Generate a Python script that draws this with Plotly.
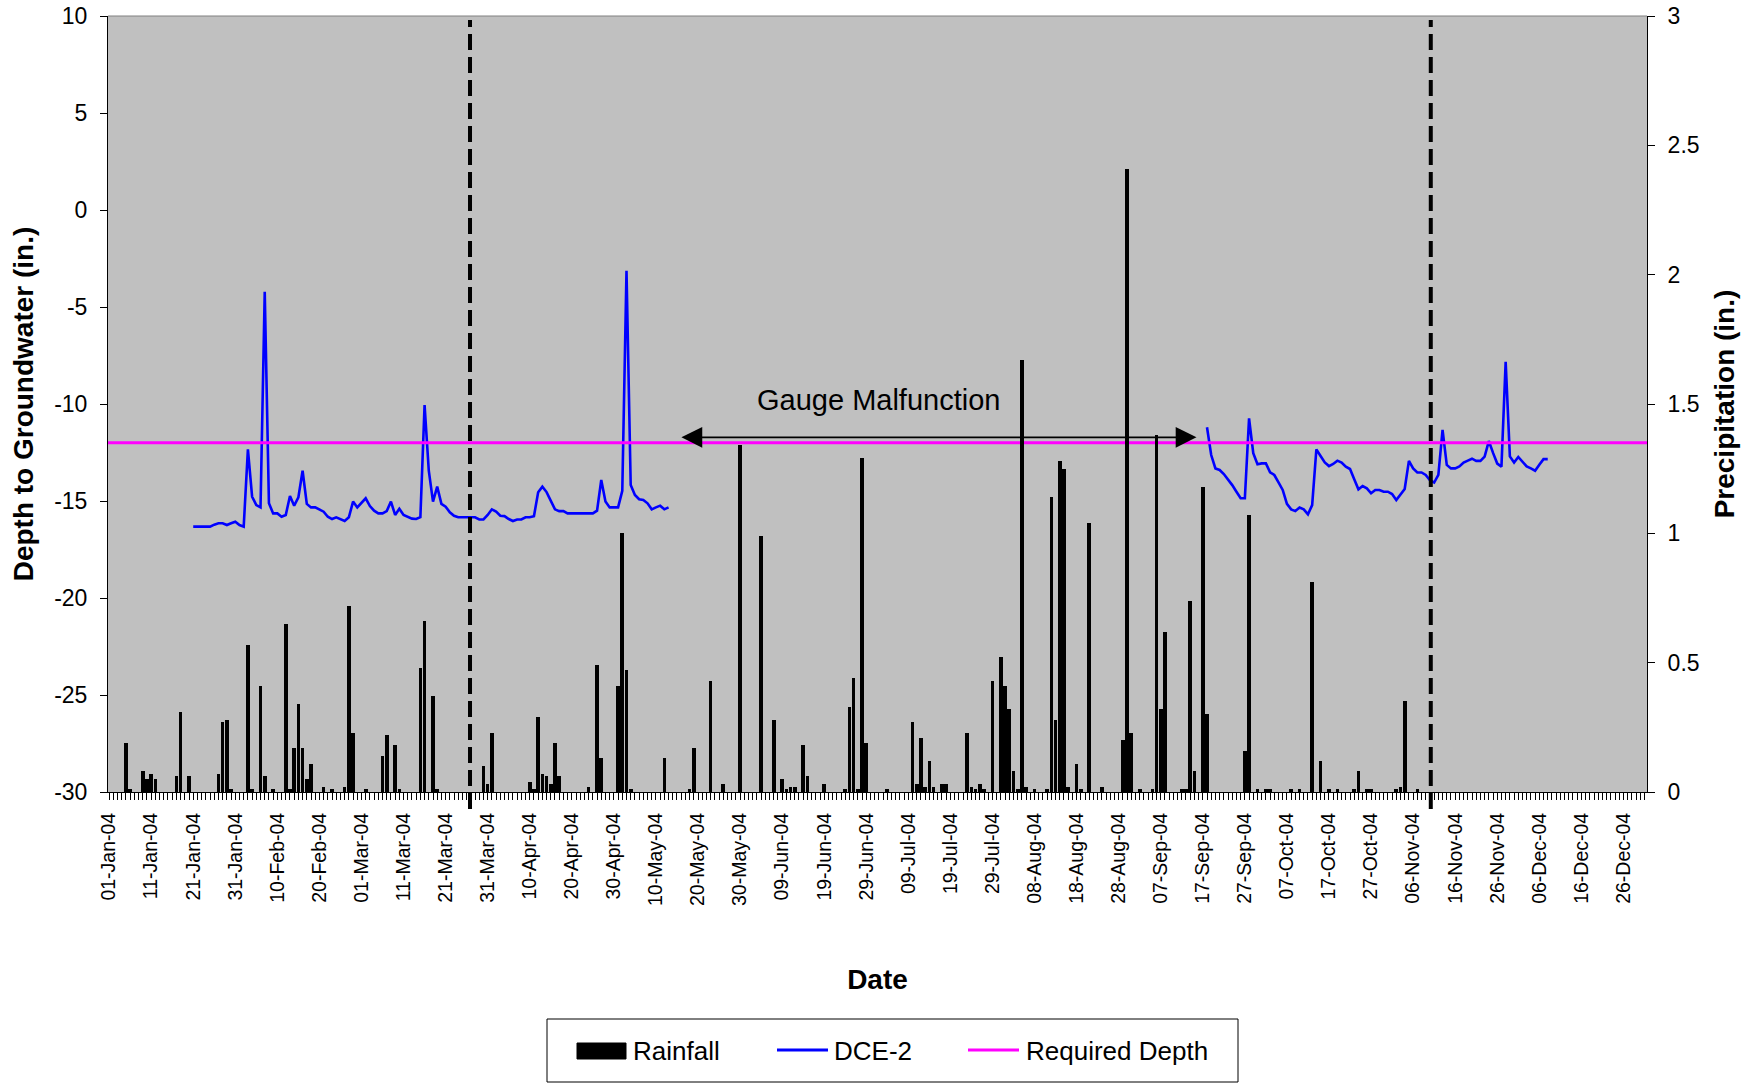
import pandas as pd
import plotly.graph_objects as go

# ---------------- data ----------------
rain_dates = [
    "2004-01-05", "2004-01-06", "2004-01-09", "2004-01-10", "2004-01-11", "2004-01-12",
    "2004-01-17", "2004-01-18", "2004-01-20", "2004-01-27", "2004-01-28", "2004-01-29",
    "2004-01-30", "2004-02-03", "2004-02-04", "2004-02-06", "2004-02-07", "2004-02-09",
    "2004-02-12", "2004-02-13", "2004-02-14", "2004-02-15", "2004-02-16", "2004-02-17",
    "2004-02-18", "2004-02-21", "2004-02-23", "2004-02-26", "2004-02-27", "2004-02-28",
    "2004-03-02", "2004-03-06", "2004-03-07", "2004-03-09", "2004-03-10", "2004-03-15",
    "2004-03-16", "2004-03-18", "2004-03-19", "2004-03-30", "2004-03-31", "2004-04-01",
    "2004-04-10", "2004-04-11", "2004-04-12", "2004-04-13", "2004-04-14", "2004-04-15",
    "2004-04-16", "2004-04-17", "2004-04-24", "2004-04-26", "2004-04-27", "2004-05-01",
    "2004-05-02", "2004-05-03", "2004-05-04", "2004-05-12", "2004-05-18", "2004-05-19",
    "2004-05-23", "2004-05-26", "2004-05-30", "2004-06-04", "2004-06-07", "2004-06-09",
    "2004-06-10", "2004-06-11", "2004-06-12", "2004-06-14", "2004-06-15", "2004-06-19",
    "2004-06-24", "2004-06-25", "2004-06-26", "2004-06-27", "2004-06-28", "2004-06-29",
    "2004-07-04", "2004-07-10", "2004-07-11", "2004-07-12", "2004-07-13", "2004-07-14",
    "2004-07-15", "2004-07-17", "2004-07-18", "2004-07-23", "2004-07-24", "2004-07-25",
    "2004-07-26", "2004-07-27", "2004-07-29", "2004-07-31", "2004-08-01", "2004-08-02",
    "2004-08-03", "2004-08-04", "2004-08-05", "2004-08-06", "2004-08-08", "2004-08-11",
    "2004-08-12", "2004-08-13", "2004-08-14", "2004-08-15", "2004-08-16", "2004-08-18",
    "2004-08-19", "2004-08-21", "2004-08-24", "2004-08-29", "2004-08-30", "2004-08-31",
    "2004-09-02", "2004-09-05", "2004-09-06", "2004-09-07", "2004-09-08", "2004-09-12",
    "2004-09-13", "2004-09-14", "2004-09-15", "2004-09-17", "2004-09-18", "2004-09-27",
    "2004-09-28", "2004-09-30", "2004-10-02", "2004-10-03", "2004-10-08", "2004-10-10",
    "2004-10-13", "2004-10-15", "2004-10-17", "2004-10-19", "2004-10-23", "2004-10-24",
    "2004-10-26", "2004-10-27", "2004-11-02", "2004-11-03", "2004-11-04", "2004-11-07",
]
rain_in = [
    0.19, 0.01, 0.08, 0.05, 0.07, 0.05,
    0.06, 0.31, 0.06, 0.07, 0.27, 0.28,
    0.01, 0.57, 0.01, 0.41, 0.06, 0.01,
    0.65, 0.01, 0.17, 0.34, 0.17, 0.05,
    0.11, 0.02, 0.01, 0.02, 0.72, 0.23,
    0.01, 0.14, 0.22, 0.18, 0.01, 0.48,
    0.66, 0.37, 0.01, 0.10, 0.03, 0.23,
    0.04, 0.01, 0.29, 0.07, 0.06, 0.03,
    0.19, 0.06, 0.02, 0.49, 0.13, 0.41,
    1.00, 0.47, 0.01, 0.13, 0.01, 0.17,
    0.43, 0.03, 1.34, 0.99, 0.28, 0.05,
    0.01, 0.02, 0.02, 0.18, 0.06, 0.03,
    0.01, 0.33, 0.44, 0.01, 1.29, 0.19,
    0.01, 0.27, 0.03, 0.21, 0.02, 0.12,
    0.02, 0.03, 0.03, 0.23, 0.02, 0.01,
    0.03, 0.01, 0.43, 0.52, 0.41, 0.32,
    0.08, 0.01, 1.67, 0.02, 0.01, 0.01,
    1.14, 0.28, 1.28, 1.25, 0.02, 0.11,
    0.01, 1.04, 0.02, 0.20, 2.41, 0.23,
    0.01, 0.01, 1.38, 0.32, 0.62, 0.01,
    0.01, 0.74, 0.08, 1.18, 0.30, 0.16,
    1.07, 0.01, 0.01, 0.01, 0.01, 0.01,
    0.81, 0.12, 0.01, 0.01, 0.01, 0.08,
    0.01, 0.01, 0.01, 0.02, 0.35, 0.01,
]

# DCE-2 daily readings (two recorded periods; gauge malfunction in between)
dce2_seg1_start = "2004-01-21"
dce2_seg1 = [
    -16.32, -16.32, -16.32, -16.32, -16.32, -16.22, -16.15, -16.15, -16.24, -16.15,
    -16.07, -16.24, -16.32, -12.34, -14.78, -15.21, -15.33, -4.21, -15.12, -15.64,
    -15.64, -15.81, -15.72, -14.74, -15.24, -14.81, -13.44, -15.15, -15.33, -15.33,
    -15.43, -15.55, -15.81, -15.93, -15.84, -15.95, -16.03, -15.84, -15.03, -15.33,
    -15.09, -14.86, -15.26, -15.50, -15.64, -15.64, -15.52, -15.03, -15.72, -15.40,
    -15.72, -15.81, -15.91, -15.93, -15.83, -10.05, -13.44, -15.03, -14.26, -15.15,
    -15.29, -15.58, -15.76, -15.84, -15.84, -15.84, -15.84, -15.84, -15.95, -15.95,
    -15.72, -15.43, -15.55, -15.76, -15.78, -15.93, -16.03, -15.95, -15.95, -15.84,
    -15.84, -15.78, -14.55, -14.26, -14.54, -15.03, -15.43, -15.52, -15.52, -15.64,
    -15.64, -15.64, -15.64, -15.64, -15.64, -15.64, -15.50, -13.92, -15.03, -15.33,
    -15.33, -15.33, -14.47, -3.13, -14.18, -14.69, -14.91, -14.95, -15.12, -15.43,
    -15.33, -15.24, -15.43, -15.33,
]
dce2_seg2_start = "2004-09-18"
dce2_seg2 = [
    -11.20, -12.63, -13.32, -13.40, -13.61, -13.88, -14.18, -14.52, -14.86, -14.86,
    -10.74, -12.54, -13.11, -13.06, -13.06, -13.52, -13.66, -14.04, -14.43, -15.15,
    -15.43, -15.52, -15.34, -15.43, -15.69, -15.21, -12.34, -12.68, -13.01, -13.20,
    -13.09, -12.92, -13.02, -13.23, -13.35, -13.88, -14.40, -14.23, -14.35, -14.60,
    -14.43, -14.43, -14.52, -14.52, -14.64, -14.95, -14.66, -14.38, -12.93, -13.32,
    -13.53, -13.53, -13.66, -13.93, -14.05, -13.65, -11.33, -13.14, -13.32, -13.32,
    -13.22, -13.02, -12.92, -12.82, -12.93, -12.93, -12.71, -11.91, -12.52, -13.07,
    -13.23, -7.83, -12.70, -13.02, -12.73, -12.95, -13.22, -13.32, -13.44, -13.13,
    -12.84, -12.84,
]

required_depth = -12.0
depth_ticks = [-30, -25, -20, -15, -10, -5, 0, 5, 10]
depth_tick_labels = ["-30", "-25", "-20", "-15", "-10", "-5", "0", "5", "10"]
x_start = "2003-12-31 17:46"
x_end = "2004-12-31 14:24"
tick_start = "2004-01-01"
tick_end = "2004-12-26"
period_markers = ["2004-03-26 19:12", "2004-11-10 04:48"]
gap_arrow_left = "2004-05-15 16:48"
gap_arrow_right = "2004-09-15 12:00"
gap_arrow_depth = -11.72
gap_label_date = "2004-07-01 19:12"
gap_label_depth = -9.79

FONT = "Arial, 'Liberation Sans', sans-serif"
DAY_MS = 86400000

# ---------------- traces ----------------
seg1_x = list(pd.date_range(dce2_seg1_start, periods=len(dce2_seg1), freq="D"))
seg2_x = list(pd.date_range(dce2_seg2_start, periods=len(dce2_seg2), freq="D"))
dce_x = seg1_x + [None] + seg2_x
dce_y = dce2_seg1 + [None] + dce2_seg2

fig = go.Figure()
fig.add_trace(go.Scatter(
    x=dce_x, y=dce_y, mode="lines", name="DCE-2",
    line=dict(color="#0000ff", width=2.6), connectgaps=False,
    yaxis="y", showlegend=False,
))
fig.add_trace(go.Scatter(
    x=[x_start, x_end], y=[required_depth, required_depth], mode="lines",
    name="Required Depth", line=dict(color="#ff00ff", width=3),
    yaxis="y", showlegend=False,
))
fig.add_trace(go.Bar(
    x=rain_dates, y=rain_in, name="Rainfall", yaxis="y2",
    marker=dict(color="black", line=dict(width=0)),
    width=0.86 * DAY_MS, showlegend=False,
))

tickvals = list(pd.date_range(tick_start, tick_end, freq="10D"))

fig.update_layout(
    width=1761, height=1083,
    margin=dict(l=108, r=114, t=16, b=291, pad=0, autoexpand=False),
    paper_bgcolor="white", plot_bgcolor="#c0c0c0",
    font=dict(family=FONT, color="black", size=20),
    bargap=0,
    showlegend=False,
    xaxis=dict(
        type="date", range=[x_start, x_end], automargin=False,
        tickvals=tickvals, tickformat="%d-%b-%y", tickangle=-90,
        tickfont=dict(size=19.5, family=FONT),
        ticks="outside", ticklen=7, tickwidth=1, tickcolor="black",
        ticklabelstandoff=5,
        minor=dict(ticks="outside", ticklen=7, tickwidth=1, tickcolor="black",
                   dtick=DAY_MS, tick0=tick_start, showgrid=False),
        showline=True, linecolor="black", linewidth=1,
        showgrid=False, zeroline=False,
        title=dict(text="<b>Date</b>", font=dict(size=28, family=FONT), standoff=64),
    ),
    yaxis=dict(
        range=[-30, 10], tickvals=depth_ticks, ticktext=depth_tick_labels, automargin=False,
        tickfont=dict(size=23, family=FONT),
        ticks="outside", ticklen=7, tickwidth=1, tickcolor="black",
        ticklabelstandoff=8,
        showline=True, linecolor="black", linewidth=1,
        showgrid=False, zeroline=False,
        title=dict(text="<b>Depth to Groundwater (in.)</b>", font=dict(size=28, family=FONT), standoff=12),
    ),
    yaxis2=dict(
        range=[0, 3], dtick=0.5, tick0=0, automargin=False,
        overlaying="y", side="right",
        tickfont=dict(size=23, family=FONT),
        ticks="outside", ticklen=7, tickwidth=1, tickcolor="black",
        ticklabelstandoff=8,
        showline=True, linecolor="black", linewidth=1,
        showgrid=False, zeroline=False,
        title=dict(text="<b>Precipitation (in.)</b>", font=dict(size=28, family=FONT), standoff=15),
    ),
)

# top border of plot area
fig.add_shape(type="line", xref="paper", yref="paper", x0=0, x1=1, y0=1, y1=1,
              line=dict(color="#808080", width=1))

# dashed period markers
for d in period_markers:
    fig.add_shape(type="line", xref="x", yref="paper", x0=d, x1=d, y0=-0.022, y1=0.995,
                  line=dict(color="black", width=4, dash="16px,7px"))

# gauge malfunction double arrow + label
fig.add_annotation(
    x=gap_arrow_right, y=gap_arrow_depth, ax=gap_arrow_left, ay=gap_arrow_depth,
    xref="x", yref="y", axref="x", ayref="y", text="", showarrow=True,
    arrowside="end+start", arrowhead=2, startarrowhead=2,
    arrowsize=2.6, startarrowsize=2.6, arrowwidth=1.6, arrowcolor="black",
    standoff=0, startstandoff=0,
)
fig.add_annotation(
    x=gap_label_date, y=gap_label_depth, xref="x", yref="y",
    text="Gauge Malfunction", showarrow=False,
    font=dict(size=29, family=FONT, color="black"),
)

# legend (drawn as a boxed key below the chart)
def px_x(px):
    return (px - 108) / 1539.0

def px_y(py):
    return (792 - py) / 776.0

fig.add_shape(type="rect", xref="paper", yref="paper",
              x0=px_x(547), x1=px_x(1238), y0=px_y(1019), y1=px_y(1082),
              line=dict(color="black", width=1), fillcolor="white")
fig.add_shape(type="rect", xref="paper", yref="paper",
              x0=px_x(577), x1=px_x(626), y0=px_y(1043), y1=px_y(1059),
              line=dict(color="black", width=1), fillcolor="black")
fig.add_shape(type="line", xref="paper", yref="paper",
              x0=px_x(777), x1=px_x(828), y0=px_y(1050), y1=px_y(1050),
              line=dict(color="#0000ff", width=3))
fig.add_shape(type="line", xref="paper", yref="paper",
              x0=px_x(968), x1=px_x(1019), y0=px_y(1050), y1=px_y(1050),
              line=dict(color="#ff00ff", width=3))
for label, lx in [("Rainfall", 631), ("DCE-2", 832), ("Required Depth", 1024)]:
    fig.add_annotation(x=px_x(lx), y=px_y(1051), xref="paper", yref="paper",
                       xanchor="left", yanchor="middle", text=label, showarrow=False,
                       font=dict(size=26, family=FONT, color="black"))

fig.write_html("out.html", config={"displayModeBar": False},
               post_script="document.body.style.margin='0';document.body.style.overflow='hidden';")
